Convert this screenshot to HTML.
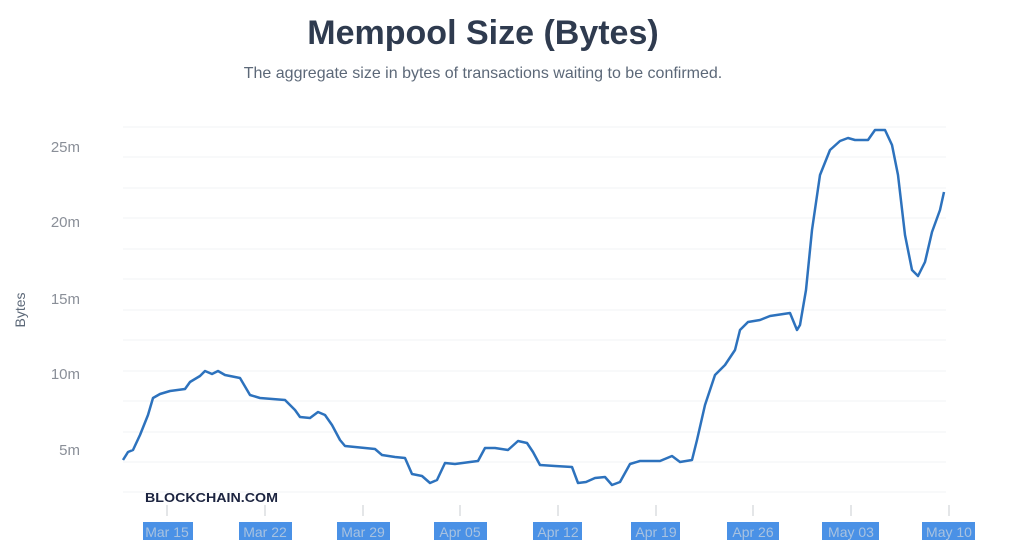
<!DOCTYPE html>
<html><head><style>
body{margin:0;background:#fff;width:1024px;height:542px;overflow:hidden;font-family:"Liberation Sans",sans-serif}
</style></head><body>
<svg width="1024" height="542" xmlns="http://www.w3.org/2000/svg" font-family="Liberation Sans, sans-serif">
<text x="483" y="44" text-anchor="middle" font-size="34" font-weight="bold" fill="#2f3b4f">Mempool Size (Bytes)</text>
<text x="483" y="78" text-anchor="middle" font-size="16" fill="#5c6878">The aggregate size in bytes of transactions waiting to be confirmed.</text>
<g stroke="#f2f3f5" stroke-width="1">
<line x1="123" x2="946" y1="127" y2="127"/><line x1="123" x2="946" y1="157" y2="157"/><line x1="123" x2="946" y1="188" y2="188"/><line x1="123" x2="946" y1="218" y2="218"/><line x1="123" x2="946" y1="249" y2="249"/><line x1="123" x2="946" y1="279" y2="279"/><line x1="123" x2="946" y1="310" y2="310"/><line x1="123" x2="946" y1="340" y2="340"/><line x1="123" x2="946" y1="371" y2="371"/><line x1="123" x2="946" y1="401" y2="401"/><line x1="123" x2="946" y1="432" y2="432"/><line x1="123" x2="946" y1="462" y2="462"/><line x1="123" x2="946" y1="492" y2="492"/>
</g>
<g font-size="15" fill="#8a8f98" text-anchor="end">
<text x="80" y="152">25m</text><text x="80" y="227">20m</text><text x="80" y="304">15m</text><text x="80" y="379">10m</text><text x="80" y="455">5m</text>
</g>
<text transform="translate(25,310) rotate(-90)" text-anchor="middle" font-size="14" fill="#5c6878">Bytes</text>
<polyline fill="none" stroke="#2d72bd" stroke-width="2.5" stroke-linejoin="round" points="123,460 128,452 133,450 140,435 148,415 153,398 160,394 170,391 185,389 190,382 200,376 205,371 212,374 218,371 225,375 240,378 250,395 260,398 285,400 295,410 300,417 310,418 318,412 325,415 332,425 340,440 345,446 375,449 382,455 395,457 405,458 412,474 422,476 430,483 437,480 445,463 455,464 470,462 478,461 485,448 495,448 508,450 518,441 527,443 533,452 540,465 555,466 572,467 578,483 586,482 595,478 605,477 612,485 620,482 630,464 640,461 660,461 672,456 680,462 692,460 697,440 705,405 715,375 725,365 735,350 740,330 748,322 760,320 770,316 790,313 797,330 800,325 806,290 812,230 820,175 830,150 840,141 848,138 855,140 868,140 875,130 885,130 892,145 898,175 905,235 912,270 918,276 925,262 932,232 940,210 944,192"/>
<text x="145" y="502" font-size="13" font-weight="bold" fill="#1c2440" textLength="133" lengthAdjust="spacingAndGlyphs">BLOCKCHAIN.COM</text>
<g stroke="#c8ccd2" stroke-width="1">
<line x1="167" x2="167" y1="505" y2="516"/><line x1="265" x2="265" y1="505" y2="516"/><line x1="363" x2="363" y1="505" y2="516"/><line x1="460" x2="460" y1="505" y2="516"/><line x1="558" x2="558" y1="505" y2="516"/><line x1="656" x2="656" y1="505" y2="516"/><line x1="753" x2="753" y1="505" y2="516"/><line x1="851" x2="851" y1="505" y2="516"/><line x1="949" x2="949" y1="505" y2="516"/>
</g>
<g fill="#4a91e6">
<rect x="143" y="522" width="50" height="18"/><rect x="239" y="522" width="53" height="18"/><rect x="337" y="522" width="53" height="18"/><rect x="434" y="522" width="53" height="18"/><rect x="533" y="522" width="49" height="18"/><rect x="631" y="522" width="49" height="18"/><rect x="727" y="522" width="52" height="18"/><rect x="822" y="522" width="57" height="18"/><rect x="922" y="522" width="53" height="18"/>
</g>
<g font-size="14" fill="#a8c2e0" text-anchor="middle">
<text x="167" y="537">Mar 15</text><text x="265" y="537">Mar 22</text><text x="363" y="537">Mar 29</text><text x="460" y="537">Apr 05</text><text x="558" y="537">Apr 12</text><text x="656" y="537">Apr 19</text><text x="753" y="537">Apr 26</text><text x="851" y="537">May 03</text><text x="949" y="537">May 10</text>
</g>
</svg>
</body></html>
